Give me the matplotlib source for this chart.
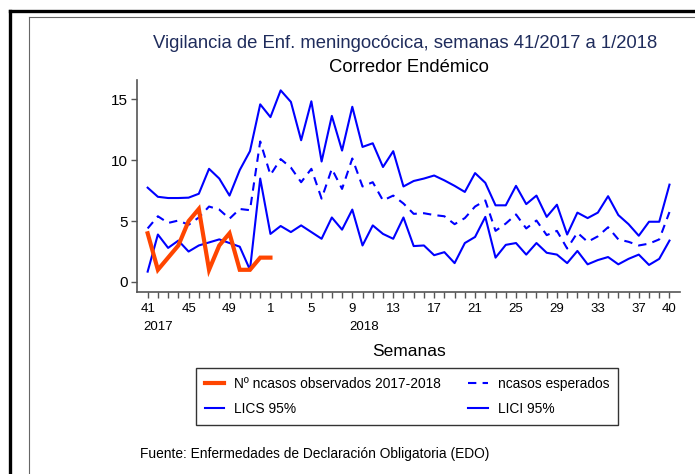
import numpy as np
import matplotlib
matplotlib.use("Agg")
import matplotlib.pyplot as plt
from matplotlib.lines import Line2D

plt.rcParams['font.family'] = ['Liberation Sans', 'DejaVu Sans']

# semanas 41/2017 .. 40/2018
weeks = list(range(41, 53)) + list(range(1, 41))
shown = [41, 45, 49, 1, 5, 9, 13, 17, 21, 25, 29, 33, 37, 40]

observed = [4, 1, 2, 3, 5, 6, 1, 3, 4, 1, 1, 2, 2]

expected = [4.4, 5.4, 4.85, 5.05, 4.7, 5.3, 6.2, 5.95, 5.2, 6.0, 5.9, 11.55,
            8.8, 10.1, 9.4, 8.2, 9.3, 6.85, 9.3, 7.65, 10.15, 7.85, 8.2, 6.7,
            7.1, 6.45, 5.6, 5.65, 5.5, 5.4, 4.75, 5.25, 6.2, 6.7, 4.2, 4.8,
            5.55, 4.4, 5.05, 3.85, 4.2, 2.75, 4.05, 3.3, 3.75, 4.5, 3.5, 3.3,
            3.0, 3.15, 3.5, 5.75]

lics = [7.75, 7.0, 6.9, 6.9, 6.93, 7.25, 9.3, 8.5, 7.1, 9.2, 10.75, 14.6,
        13.55, 15.75, 14.8, 11.65, 14.85, 9.9, 13.65, 10.8, 14.4, 11.1, 11.4,
        9.45, 10.75, 7.85, 8.3, 8.5, 8.75, 8.35, 7.9, 7.4, 8.95, 8.15, 6.3,
        6.3, 7.9, 6.4, 7.1, 5.35, 6.35, 3.9, 5.7, 5.25, 5.7, 7.05, 5.5, 4.75,
        3.8, 4.95, 4.95, 8.0]

lici = [0.85, 3.9, 2.8, 3.4, 2.5, 3.0, 3.25, 3.5, 3.2, 2.9, 1.0, 8.5, 3.95,
        4.6, 4.1, 4.65, 4.1, 3.55, 5.3, 4.3, 5.95, 3.0, 4.65, 3.95, 3.55, 5.3,
        2.95, 3.0, 2.2, 2.45, 1.55, 3.2, 3.7, 5.35, 2.0, 3.05, 3.2, 2.25, 3.2,
        2.4, 2.25, 1.55, 2.55, 1.45, 1.8, 2.05, 1.45, 1.9, 2.25, 1.4, 1.9, 3.4]

idx = np.arange(len(weeks))

fig = plt.figure(figsize=(6.95, 4.74), dpi=100)
ax = fig.add_axes([0.1967, 0.3846, 0.7813, 0.4466])

blue = '#0000ff'
l_obs, = ax.plot(idx[:len(observed)], observed, color='#ff4500', lw=3.0,
                 solid_joinstyle='miter', zorder=4)
l_exp, = ax.plot(idx, expected, color=blue, lw=1.5, dashes=(4, 3))
l_lics, = ax.plot(idx, lics, color=blue, lw=1.5)
l_lici, = ax.plot(idx, lici, color=blue, lw=1.5)

ax.set_xlim(-1.07, 52.0)
ax.set_ylim(-0.8, 16.6)
ax.set_yticks([0, 5, 10, 15])
ax.set_xticks(idx)
ax.set_xticklabels([str(w) if (w in shown and not (w == 41 and i > 0)) else ''
                    for i, w in enumerate(weeks)])

for s in ['top', 'right']:
    ax.spines[s].set_visible(False)
for s in ['left', 'bottom']:
    ax.spines[s].set_color('#555555')
    ax.spines[s].set_linewidth(1.2)
ax.tick_params(axis='both', colors='#555555', labelcolor='black', length=4,
               width=1)
ax.tick_params(axis='y', labelsize=11, pad=2.5)
ax.tick_params(axis='x', labelsize=9.5, pad=4)

ax.text(1, -0.168, '2017', transform=ax.get_xaxis_transform(), ha='center',
        va='center', fontsize=9.5)
ax.text(21.2, -0.168, '2018', transform=ax.get_xaxis_transform(), ha='center',
        va='center', fontsize=9.5)

fig.text(405 / 695, 1 - 44 / 474, 'Vigilancia de Enf. meningocócica, semanas 41/2017 a 1/2018',
         ha='center', va='center', fontsize=13.3, color='#1f2c5c')
fig.text(409 / 695, 1 - 68 / 474, 'Corredor Endémico', ha='center', va='center',
         fontsize=13.3, color='black')
fig.text(408.7 / 695, 1 - 352 / 474, 'Semanas', ha='center', va='center',
         fontsize=12.5)

leg = fig.legend([l_obs, l_lics, l_exp, l_lici],
                 ['Nº ncasos observados 2017-2018', 'LICS 95%',
                  'ncasos esperados', 'LICI 95%'],
                 ncol=2, loc='upper left',
                 bbox_to_anchor=(196 / 695, 1 - 368 / 474),
                 fontsize=9.9, frameon=True, fancybox=False, handlelength=1.4,
                 columnspacing=2.0, handletextpad=0.75, borderpad=0.62,
                 labelspacing=0.85, borderaxespad=0)
leg.get_frame().set_edgecolor('black')
leg.get_frame().set_linewidth(1.0)

fig.text(140 / 695, 1 - 454 / 474,
         'Fuente: Enfermedades de Declaración Obligatoria (EDO)',
         ha='left', va='center', fontsize=9.9)

# marcos exteriores
tr = fig.transFigure
fig.add_artist(Line2D([10 / 695, 10 / 695], [0, 1 - 11 / 474], color='black',
                      lw=2.4, transform=tr))
fig.add_artist(Line2D([10 / 695, 1], [1 - 11 / 474, 1 - 11 / 474],
                      color='black', lw=2.4, transform=tr))
fig.add_artist(Line2D([29 / 695, 29 / 695], [0, 1 - 17 / 474], color='#666666',
                      lw=0.8, transform=tr))
fig.add_artist(Line2D([29 / 695, 1], [1 - 17 / 474, 1 - 17 / 474],
                      color='#666666', lw=0.8, transform=tr))

plt.savefig('out.png', dpi=100)
plt.close('all')
